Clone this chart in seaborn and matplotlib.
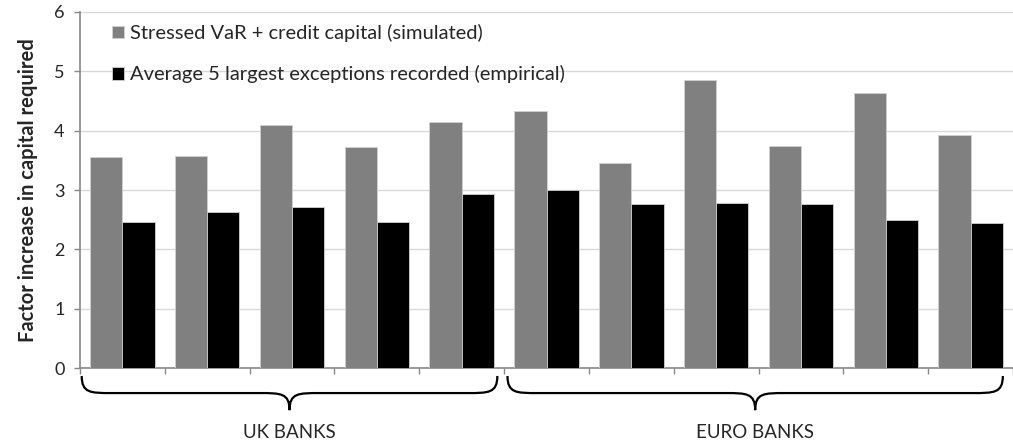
import numpy as np
import pandas as pd
import seaborn as sns
import matplotlib.pyplot as plt
from matplotlib.path import Path
from matplotlib.patches import PathPatch
import matplotlib.transforms as mtransforms

banks = ['UK1', 'UK2', 'UK3', 'UK4', 'UK5', 'EU1', 'EU2', 'EU3', 'EU4', 'EU5', 'EU6']
stressed = [3.55, 3.57, 4.10, 3.73, 4.15, 4.34, 3.46, 4.85, 3.74, 4.63, 3.92]
empirical = [2.47, 2.63, 2.71, 2.47, 2.93, 3.00, 2.76, 2.79, 2.76, 2.49, 2.45]
series = ['Stressed VaR + credit capital (simulated)',
          'Average 5 largest exceptions recorded (empirical)']
groups = ['UK BANKS', 'EURO BANKS']
group_sizes = [5, 6]

df = pd.DataFrame({
    'bank': banks * 2,
    'value': stressed + empirical,
    'series': [series[0]] * len(banks) + [series[1]] * len(banks),
})

sns.set_style('white')
plt.rcParams['font.family'] = ['Lato', 'DejaVu Sans']

fig = plt.figure(figsize=(10.13, 4.43), dpi=100)
ax = fig.add_axes([0.079, 0.169, 0.921, 0.804])

sns.barplot(data=df, x='bank', y='value', hue='series', order=banks,
            hue_order=series, palette=['#808080', '#000000'], width=0.76,
            edgecolor='#d0d0d0', linewidth=0.6, ax=ax, zorder=3)

ax.set_ylim(0, 6)
ax.set_xlim(-0.5, 10.39)
ax.set_yticks(range(7))
ax.yaxis.grid(True, color='#d9d9d9', linewidth=1, zorder=0)
ax.set_axisbelow(True)
for s in ['top', 'right']:
    ax.spines[s].set_visible(False)
for s in ['left', 'bottom']:
    ax.spines[s].set_color('#888888')
    ax.spines[s].set_linewidth(1.2)

# ticks between categories, no labels
ax.set_xticks(np.arange(-0.5, len(banks) + 0.5, 1))
ax.set_xticklabels([])
ax.tick_params(axis='x', bottom=True, length=4, color='#888888', width=1)
ax.tick_params(axis='y', left=True, length=4, color='#888888', width=1,
               labelsize=13, pad=7)
ax.set_xlabel('')
ax.set_ylabel('Factor increase in capital required', fontsize=14.5,
              fontweight='bold', labelpad=12)

ax.legend(loc='upper left', bbox_to_anchor=(0.015, 1.017), frameon=False,
          fontsize=14.5, handlelength=0.6, handleheight=0.6,
          handletextpad=0.3, labelspacing=1.15)

# curly braces under the groups
trans = mtransforms.blended_transform_factory(ax.transData, ax.transAxes)


def brace(x0, x1, label):
    top, mid, bot = -0.022, -0.070, -0.118
    xc = (x0 + x1) / 2
    r = 0.35
    verts = [
        (x0, top), (x0, mid), (x0 + r * 0.3, mid), (x0 + r, mid),
        (xc - r, mid),
        (xc - r * 0.3, mid), (xc, mid), (xc, bot),
        (xc, mid), (xc + r * 0.3, mid), (xc + r, mid),
        (x1 - r, mid),
        (x1 - r * 0.3, mid), (x1, mid), (x1, top),
    ]
    codes = [Path.MOVETO, Path.CURVE4, Path.CURVE4, Path.CURVE4,
             Path.LINETO,
             Path.CURVE4, Path.CURVE4, Path.CURVE4,
             Path.CURVE4, Path.CURVE4, Path.CURVE4,
             Path.LINETO,
             Path.CURVE4, Path.CURVE4, Path.CURVE4]
    patch = PathPatch(Path(verts, codes), facecolor='none', edgecolor='black',
                      linewidth=1.6, transform=trans, clip_on=False)
    ax.add_patch(patch)
    ax.text(xc, -0.18, label, transform=trans, ha='center', va='center',
            fontsize=13.5)


start = -0.5
bounds = []
for name, n in zip(groups, group_sizes):
    bounds.append((start, start + n, name))
    start += n
brace(bounds[0][0] + 0.02, bounds[0][1] - 0.08, bounds[0][2])
brace(bounds[1][0] + 0.04, 10.38, bounds[1][2])

plt.savefig('out.png', dpi=100)
